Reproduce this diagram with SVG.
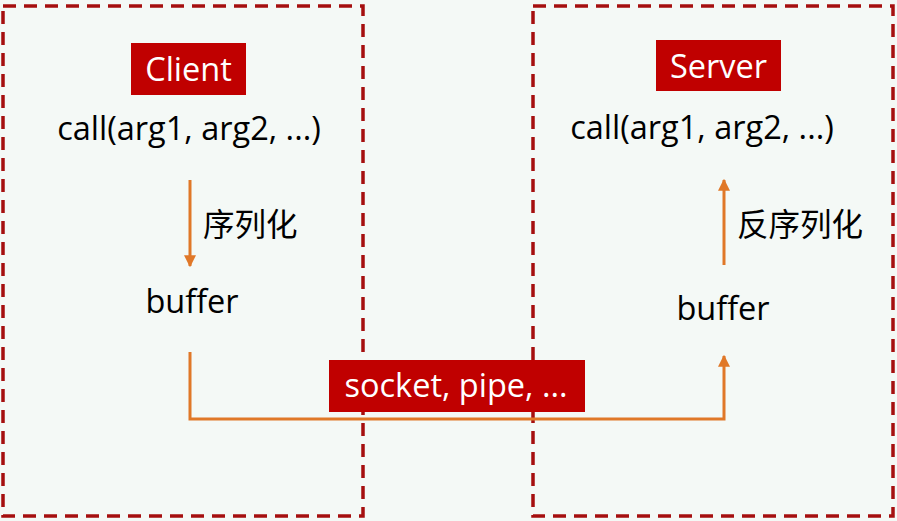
<svg xmlns="http://www.w3.org/2000/svg" width="897" height="521" viewBox="0 0 897 521">
<defs>
<style>
.box{fill:none;stroke:#a50f0f;stroke-width:3.5;stroke-dasharray:13 8}
.tag{fill:#c00000}
.tagtxt{fill:#ffffff;font-family:"Open Sans","Noto Sans",sans-serif;font-size:32.5px;text-anchor:middle}
.txt{fill:#000000;font-family:"Open Sans","Noto Sans",sans-serif;font-size:32.5px;text-anchor:middle}
.cjk{fill:#000000;font-family:"Noto Sans CJK SC",sans-serif;font-size:31.5px}
.conn{fill:none;stroke:#e07828;stroke-width:3}
</style>
<marker id="ah" viewBox="0 0 10 10" refX="9" refY="5" markerWidth="4" markerHeight="4" orient="auto" markerUnits="strokeWidth">
<path d="M0,0 L10,5 L0,10 z" fill="#e07828"/>
</marker>
</defs>
<rect width="897" height="521" fill="#f4f9f6"/>
<g id="client">
<rect class="box" x="3" y="6" width="360" height="510"/>
<rect class="tag" x="131" y="43" width="115" height="52"/>
<text class="tagtxt" x="188.5" y="81">Client</text>
<text class="txt" x="189" y="140">call(arg1, arg2, ...)</text>
<text class="txt" x="192" y="313">buffer</text>
</g>
<g id="server">
<rect class="box" x="533" y="6" width="360" height="510"/>
<rect class="tag" x="656" y="40" width="125" height="51"/>
<text class="tagtxt" x="718.5" y="78">Server</text>
<text class="txt" x="702" y="139">call(arg1, arg2, ...)</text>
<text class="txt" x="723" y="320">buffer</text>
</g>
<g id="transport">
<rect class="tag" x="329" y="360" width="256" height="52"/>
<text class="tagtxt" x="456" y="397">socket, pipe, ...</text>
</g>
<g id="connectors">
<line class="conn" x1="190" y1="180" x2="190" y2="266" marker-end="url(#ah)"/>
<text class="cjk" x="203" y="236">序列化</text>
<line class="conn" x1="724" y1="265" x2="724" y2="180" marker-end="url(#ah)"/>
<text class="cjk" x="737" y="236">反序列化</text>
<polyline class="conn" points="190,352 190,419 724,419 724,356" marker-end="url(#ah)"/>
</g>
</svg>
